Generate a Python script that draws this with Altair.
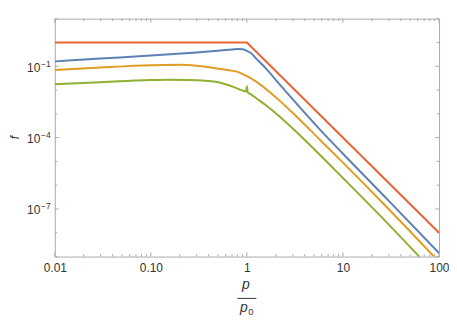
import altair as alt
import pandas as pd

# ---- data (x = p/p0, f) ----
x_red = [0.01, 1.0, 100.0]
f_red = [1.0, 1.0, 1e-8]

x_blue = [0.01, 0.03, 0.1, 0.3, 0.5, 0.65, 0.8, 0.9, 1.0, 1.1, 1.25, 1.6, 2.2, 3.2, 5.6, 10, 30, 100]
f_blue = [0.16, 0.21, 0.28, 0.38, 0.45, 0.49, 0.525, 0.52, 0.44, 0.36, 0.21, 0.076, 0.017,
          3.0e-3, 2.45e-4, 2.1e-5, 2.2e-7, 1.4e-9]

x_orange = [0.01, 0.03, 0.1, 0.2, 0.3, 0.45, 0.65, 0.8, 1.0, 1.25, 1.6, 2.2, 3.2, 5.6, 10, 30, 100]
f_orange = [0.069, 0.089, 0.111, 0.115, 0.104, 0.085, 0.068, 0.058, 0.038, 0.0224, 0.0105,
            3.5e-3, 8.5e-4, 9.1e-5, 8.9e-6, 9.8e-8, 6.0e-10]

x_green = [0.01, 0.03, 0.1, 0.15, 0.25, 0.45, 0.65, 0.8, 0.98, 1.0, 1.02, 1.1, 1.25, 1.6, 2.2,
           3.2, 5.6, 10, 30, 100]
f_green = [0.0174, 0.0214, 0.0262, 0.0271, 0.0265, 0.0229, 0.0158, 0.0115, 0.0087, 0.0145,
           0.0079, 0.0066, 0.0045, 2.2e-3, 7.6e-4, 1.9e-4, 2.1e-5, 2.0e-6, 2.2e-8, 1.3e-10]

# axis ticks / labels
x_major = [0.01, 0.1, 1, 10, 100]
x_minor = [m * 10.0 ** e for e in range(-2, 2) for m in range(2, 10)]
y_major = [1e-1, 1e-4, 1e-7]
y_major_exp = ["\u22121", "\u22124", "\u22127"]
y_minor = [10, 1, 1e-2, 1e-3, 1e-5, 1e-6, 1e-8, 1e-9]

# ---- styling ----
W, H = 386, 239
FONT = "Liberation Sans"
LBL = "#333333"
TICK = "#aaaaaa"
C_BLUE, C_ORANGE, C_GREEN, C_RED = "#5E81B5", "#E19C24", "#8FB032", "#EB6235"

xs = alt.Scale(type="log", domain=[0.01, 100], nice=False)
ys = alt.Scale(type="log", domain=[1e-9, 10], nice=False)

XAXIS = alt.Axis(
    values=x_major, title=None, grid=False, ticks=False, tickSize=0, domain=False,
    labelFlush=False, labelOverlap=False, labelBound=False,
    labelFont=FONT, labelFontSize=12, labelColor=LBL, labelPadding=6,
    labelExpr="datum.value < 0.05 ? '0.01' : datum.value < 0.5 ? '0.10' : datum.value < 5 ? '1' : datum.value < 50 ? '10' : '100'",
)


def X(field):
    return alt.X(f"{field}:Q", scale=xs, axis=XAXIS)


def Y(field):
    return alt.Y(f"{field}:Q", scale=ys, axis=None)


def series(xv, fv, color, interp):
    df = pd.DataFrame({"x": xv, "f": fv})
    return alt.Chart(df).mark_line(color=color, strokeWidth=2, clip=True, interpolate=interp).encode(
        x=X("x"), y=Y("f")
    )


lines = [
    series(x_green, f_green, C_GREEN, "monotone"),
    series(x_orange, f_orange, C_ORANGE, "monotone"),
    series(x_blue, f_blue, C_BLUE, "monotone"),
    series(x_red, f_red, C_RED, "linear"),
]

# inward frame ticks
def xticks(vals, length):
    df = pd.DataFrame({"v": vals})
    bot = alt.Chart(df).mark_rule(color=TICK, strokeWidth=1).encode(
        x=X("v"), y=alt.value(H), y2=alt.value(H - length))
    top = alt.Chart(df).mark_rule(color=TICK, strokeWidth=1).encode(
        x=X("v"), y=alt.value(0), y2=alt.value(length))
    return [bot, top]


def yticks(vals, length):
    df = pd.DataFrame({"v": vals})
    left = alt.Chart(df).mark_rule(color=TICK, strokeWidth=1).encode(
        y=Y("v"), x=alt.value(0), x2=alt.value(length))
    right = alt.Chart(df).mark_rule(color=TICK, strokeWidth=1).encode(
        y=Y("v"), x=alt.value(W), x2=alt.value(W - length))
    return [left, right]


ticks = xticks(x_minor, 2.5) + xticks(x_major, 4) + yticks(y_minor, 2.5) + yticks(y_major, 4)

# y tick labels with superscripts
ylab_df = pd.DataFrame({"v": y_major, "e": y_major_exp})
ylab_base = alt.Chart(ylab_df).mark_text(
    align="right", baseline="middle", font=FONT, fontSize=12, color=LBL, dy=1.5
).encode(y=Y("v"), x=alt.value(-14.5), text=alt.value("10"))
ylab_exp = alt.Chart(ylab_df).mark_text(
    align="left", baseline="middle", font=FONT, fontSize=8.5, color=LBL, dy=-2.5
).encode(y=Y("v"), x=alt.value(-13.8), text="e:N")

# axis titles
one = pd.DataFrame({"a": [0]})
ytitle = alt.Chart(one).mark_text(
    font=FONT, fontSize=12, fontStyle="italic", color=LBL, angle=270, align="center", baseline="middle"
).encode(x=alt.value(-40), y=alt.value(H / 2), text=alt.value("f"))
xt_num = alt.Chart(one).mark_text(
    font=FONT, fontSize=14, fontStyle="italic", color=LBL, align="center", baseline="alphabetic"
).encode(x=alt.value(W / 2 - 1), y=alt.value(H + 33), text=alt.value("p"))
xt_bar = alt.Chart(one).mark_rule(color=LBL, strokeWidth=1).encode(
    x=alt.value(W / 2 - 9.5), x2=alt.value(W / 2 + 9.5), y=alt.value(H + 42))
xt_den = alt.Chart(one).mark_text(
    font=FONT, fontSize=14, fontStyle="italic", color=LBL, align="center", baseline="alphabetic"
).encode(x=alt.value(W / 2 - 3), y=alt.value(H + 56), text=alt.value("p"))
xt_sub = alt.Chart(one).mark_text(
    font=FONT, fontSize=9.5, color=LBL, align="center", baseline="alphabetic"
).encode(x=alt.value(W / 2 + 4), y=alt.value(H + 58.5), text=alt.value("0"))

chart = alt.layer(
    *ticks, *lines, ylab_base, ylab_exp, ytitle, xt_num, xt_bar, xt_den, xt_sub
).properties(
    width=W, height=H,
    autosize=alt.AutoSizeParams(type="none"),
    padding={"left": 47, "top": 10, "right": 10, "bottom": 60},
).configure_view(stroke="#aaaaaa", strokeWidth=1)

chart.save("out.html", embed_options={"renderer": "svg", "actions": False})
